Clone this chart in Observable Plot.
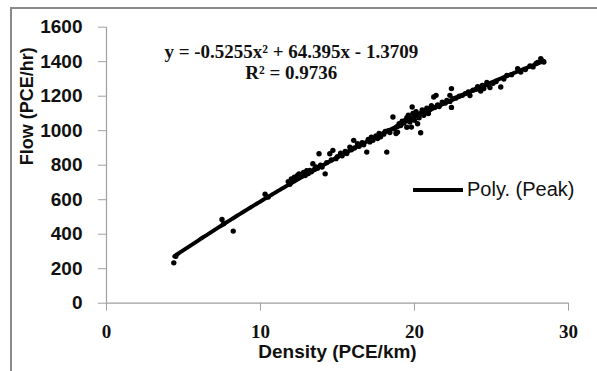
<!DOCTYPE html>
<html>
<head>
<meta charset="utf-8">
<script src="https://cdn.jsdelivr.net/npm/d3@7"></script>
<script src="https://cdn.jsdelivr.net/npm/@observablehq/plot@0.6"></script>
<style>
  html, body { margin: 0; padding: 0; background: #fff; }
  #wrap { position: relative; width: 597px; height: 371px; overflow: hidden; }
  #border { position: absolute; left: 10px; top: 7px; width: 600px; height: 400px;
            border-left: 2px solid #8a8a8a; border-top: 2px solid #8a8a8a; pointer-events: none; }
  #legend { position: absolute; left: 413px; top: 178px; display: flex; align-items: center;
            font-family: "Liberation Sans", Arial, sans-serif; font-size: 20px; color: #111; }
  #legend .sw { width: 50px; height: 4px; background: #000; margin-right: 4px; }
</style>
</head>
<body>
<div id="wrap">
  <div id="chart"></div>
  <div id="border"></div>
  <div id="legend"><div class="sw"></div><span>Poly. (Peak)</span></div>
</div>
<script>
// Observed points (density PCE/km, flow PCE/hr)
const density = [4.37, 4.5, 7.5, 7.6, 8.23, 10.3, 10.5, 11.8, 11.9, 12.0, 12.1, 12.2, 12.3, 12.4, 12.5, 12.5, 12.6, 12.7, 12.8, 12.9,
  13.0, 13.1, 13.2, 13.3, 13.4, 13.5, 13.6, 13.7, 13.8, 13.9, 14.0, 14.2, 14.3, 14.5, 14.6, 14.7, 14.9, 15.0, 15.2, 15.3,
  15.5, 15.6, 15.8, 15.9, 16.05, 16.1, 16.3, 16.4, 16.6, 16.7, 16.9, 17.0, 17.1, 17.2, 17.3, 17.5, 17.6, 17.7, 17.8, 18.0,
  18.1, 18.2, 18.3, 18.4, 18.6, 18.7, 18.8, 18.9, 18.9, 19.0, 19.1, 19.2, 19.3, 19.4, 19.5, 19.5, 19.6, 19.7, 19.8, 19.8,
  19.85, 19.9, 20.0, 20.0, 20.1, 20.2, 20.2, 20.3, 20.4, 20.4, 20.5, 20.6, 20.7, 20.8, 20.9, 21.0, 21.1, 21.25, 21.3, 21.4,
  21.5, 21.6, 21.8, 22.0, 22.1, 22.3, 22.3, 22.4, 22.4, 22.5, 22.7, 22.9, 23.1, 23.3, 23.5, 23.6, 23.8, 24.0, 24.1, 24.3,
  24.4, 24.5, 24.7, 24.8, 24.9, 25.1, 25.3, 25.6, 25.8, 26.0, 26.3, 26.7, 26.9, 27.2, 27.5, 27.7, 27.9, 28.0, 28.2, 28.3, 28.4];
const flow = [234, 272, 485, 460, 418, 632, 615, 705, 690, 720, 712, 730, 718, 740, 728, 750, 735, 745, 758, 740,
  768, 752, 770, 762, 808, 775, 790, 782, 866, 800, 790, 750, 815, 866, 830, 886, 838, 850, 870, 855,
  880, 868, 905, 890, 944, 900, 925, 910, 930, 918, 876, 950, 935, 962, 945, 970, 955, 984, 965, 980,
  995, 876, 1000, 990, 1079, 1010, 984, 1025, 992, 1040, 1030, 1055, 1045, 1060, 1020, 1075, 1090, 1050, 1021, 1070,
  1137, 1100, 1085, 1060, 1110, 1040, 1095, 1075, 988, 1100, 1120, 1090, 1110, 1130, 1100, 1125, 1145, 1195, 1135, 1205,
  1150, 1140, 1165, 1160, 1175, 1170, 1205, 1244, 1135, 1185, 1190, 1200, 1205, 1215, 1225, 1204, 1235, 1240, 1255, 1230,
  1262, 1245, 1280, 1265, 1250, 1275, 1285, 1253, 1300, 1320, 1325, 1360, 1340, 1355, 1375, 1370, 1390, 1395, 1418, 1405, 1398];

// Polynomial trendline coefficients shown on the chart
const coef = [-0.5255, 64.395, -1.3709];
const trendRange = [4.4, 28.4];

const xTicks = [0, 10, 20, 30];
const yTicks = [0, 200, 400, 600, 800, 1000, 1200, 1400, 1600];
const eqLines = ["y = -0.5255x² + 64.395x - 1.3709", "R² = 0.9736"];
const xTitle = "Density (PCE/km)";
const yTitle = "Flow (PCE/hr)";

const points = density.map((d, i) => ({x: d, y: flow[i]}));
const trend = d3.range(trendRange[0], trendRange[1] + 1e-9, 0.1).map(x => ({x, y: coef[0]*x*x + coef[1]*x + coef[2]}));

const chart = Plot.plot({
  width: 597, height: 371,
  marginLeft: 106, marginRight: 29, marginTop: 26.7, marginBottom: 68.3,
  style: {background: "transparent", color: "#111", overflow: "visible"},
  x: {domain: [0, 30]},
  y: {domain: [0, 1600]},
  marks: [
    Plot.ruleY([0], {stroke: "#a0a0a0", strokeWidth: 1.2}),
    Plot.ruleX([0], {stroke: "#a0a0a0", strokeWidth: 1.2}),
    Plot.axisY({ticks: yTicks, tickSize: 8, tickPadding: 16, stroke: "#a0a0a0", fill: "#111",
      fontSize: 19, fontWeight: "bold", fontFamily: "Liberation Sans, Arial, sans-serif", label: null, tickFormat: d => String(d)}),
    Plot.axisX({ticks: xTicks, tickSize: 8, tickPadding: 13, stroke: "#a0a0a0", fill: "#111",
      fontSize: 19, fontWeight: "bold", fontFamily: "Liberation Serif, Times New Roman, serif", label: null, tickFormat: d => String(d)}),
    Plot.dot(points, {x: "x", y: "y", r: 2.7, fill: "#000", stroke: "none"}),
    Plot.line(trend, {x: "x", y: "y", stroke: "#000", strokeWidth: 4, curve: "linear"}),
    Plot.text([eqLines[0]], {x: 12.0, y: 1454, text: d => d, fontSize: 19, fontWeight: "bold",
      fontFamily: "Liberation Serif, Times New Roman, serif", fill: "#111"}),
    Plot.text([eqLines[1]], {x: 12.0, y: 1333, text: d => d, fontSize: 19, fontWeight: "bold",
      fontFamily: "Liberation Serif, Times New Roman, serif", fill: "#111"}),
    Plot.text([xTitle], {frameAnchor: "bottom", dy: 54.3, text: d => d, fontSize: 19, fontWeight: "bold",
      fontFamily: "Liberation Sans, Arial, sans-serif", fill: "#111"}),
    Plot.text([yTitle], {frameAnchor: "left", dx: -79, rotate: -90, text: d => d, fontSize: 18, fontWeight: "bold",
      fontFamily: "Liberation Sans, Arial, sans-serif", fill: "#111"})
  ]
});
document.getElementById("chart").appendChild(chart);
</script>
</body>
</html>
